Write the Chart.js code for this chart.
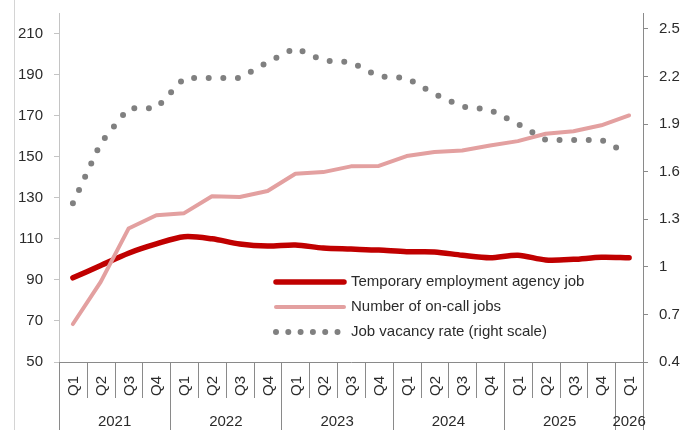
<!DOCTYPE html>
<html>
<head>
<meta charset="utf-8">
<script src="https://cdn.jsdelivr.net/npm/chart.js@4/dist/chart.umd.min.js"></script>
<style>
  html, body { margin: 0; padding: 0; background: #fff; }
  #wrap { position: relative; width: 694px; height: 430px; }
</style>
</head>
<body>
<div id="wrap"><canvas id="chart" width="694" height="430"></canvas></div>
<script>
const quarterLabels = [
  "Q1", "Q2", "Q3", "Q4",
  "Q1", "Q2", "Q3", "Q4",
  "Q1", "Q2", "Q3", "Q4",
  "Q1", "Q2", "Q3", "Q4",
  "Q1", "Q2", "Q3", "Q4",
  "Q1",
];
const yearLabels = ["2021", "2022", "2023", "2024", "2025", "2026"];

const agencyJobs = [
  91, 97, 103, 107.5, 111, 110, 107.5, 106.5, 107, 105.5, 105,
  104.5, 103.7, 103.6, 102, 100.8, 102, 99.7, 100, 101, 100.8,
];
const onCallJobs = [
  68.5, 89, 115, 121.5, 122.5, 130.7, 130.4, 133.3, 141.7, 142.5, 145.3,
  145.5, 150.3, 152.3, 153, 155.5, 157.6, 161.2, 162.4, 165.3, 170.1,
];
const vacancyRate = [
  1.4, 1.78, 2.0, 2.0, 2.19, 2.19, 2.19, 2.29, 2.38, 2.3, 2.29,
  2.2, 2.19, 2.09, 2.01, 1.99, 1.9, 1.8, 1.8, 1.8, 1.71,
];

const leftTicks = [50, 70, 90, 110, 130, 150, 170, 190, 210];
const rightTicks = [0.4, 0.7, 1, 1.3, 1.6, 1.9, 2.2, 2.5];

const seriesNames = [
  "Temporary employment agency job",
  "Number of on-call jobs",
  "Job vacancy rate (right scale)",
];

const textColor = "#2b2b2b";
const axisDark = "#8a8a8a";
const axisLight = "#c4c4c4";
const fontFamily = "'Liberation Sans', Arial, sans-serif";

const agencyColor = "#c00000";
const onCallColor = "#e3a0a0";
const vacancyColor = "#808080";

// multi level category axis + frame line + legend
const decorPlugin = {
  id: "decor",
  beforeDraw(chart) {
    const ctx = chart.ctx;
    ctx.save();
    ctx.strokeStyle = "#d4d4d4";
    ctx.lineWidth = 1;
    ctx.beginPath();
    ctx.moveTo(14.5, 0);
    ctx.lineTo(14.5, chart.height);
    ctx.stroke();
    ctx.restore();
  },
  afterDraw(chart) {
    const ctx = chart.ctx;
    const x = chart.scales.x;
    const area = chart.chartArea;
    const n = quarterLabels.length;
    const bottom = area.bottom;

    const boundary = (i) => {
      if (i === 0) return area.left;
      if (i === n) return area.right;
      return (x.getPixelForValue(i - 1) + x.getPixelForValue(i)) / 2;
    };

    ctx.save();
    ctx.strokeStyle = axisDark;
    ctx.lineWidth = 1;
    for (let i = 0; i <= n; i++) {
      const yearEdge = i === n || quarterLabels[i] === "Q1";
      const bx = Math.round(boundary(i)) + 0.5;
      ctx.beginPath();
      ctx.moveTo(bx, bottom);
      ctx.lineTo(bx, yearEdge ? chart.height : bottom + 36);
      ctx.stroke();
    }

    ctx.fillStyle = textColor;
    ctx.font = `15px ${fontFamily}`;
    ctx.textAlign = "center";
    ctx.textBaseline = "middle";
    quarterLabels.forEach((q, i) => {
      const px = x.getPixelForValue(i);
      ctx.save();
      ctx.translate(px, bottom + 24);
      ctx.rotate(-Math.PI / 2);
      ctx.fillText(q, 0, 1);
      ctx.restore();
    });

    let start = 0;
    let year = 0;
    for (let i = 1; i <= n; i++) {
      if (i === n || quarterLabels[i] === "Q1") {
        const cx = (boundary(start) + boundary(i)) / 2;
        ctx.fillText(yearLabels[year], cx, bottom + 60);
        start = i;
        year++;
      }
    }

    // legend
    const lx0 = 276;
    const lx1 = 344;
    const rows = [282, 307, 332];
    const styles = [
      { color: agencyColor, width: 5.5, dash: [] },
      { color: onCallColor, width: 4, dash: [] },
      { color: vacancyColor, width: 6, dash: [0, 12.3] },
    ];
    ctx.lineCap = "round";
    rows.forEach((ry, i) => {
      const s = styles[i];
      ctx.strokeStyle = s.color;
      ctx.lineWidth = s.width;
      ctx.setLineDash(s.dash);
      ctx.beginPath();
      ctx.moveTo(lx0, ry);
      ctx.lineTo(lx1, ry);
      ctx.stroke();
      ctx.setLineDash([]);
      ctx.fillStyle = textColor;
      ctx.textAlign = "left";
      ctx.fillText(seriesNames[i], 351, ry);
    });
    ctx.restore();
  },
};

const noVerticalPadding = (scale) => {
  scale.paddingTop = 0;
  scale.paddingBottom = 0;
};

new Chart(document.getElementById("chart"), {
  type: "line",
  data: {
    labels: quarterLabels,
    datasets: [
      {
        label: seriesNames[0],
        data: agencyJobs,
        yAxisID: "y",
        borderColor: agencyColor,
        borderWidth: 5.5,
        borderCapStyle: "round",
        borderJoinStyle: "round",
        tension: 0.3,
        pointRadius: 0,
        order: 2,
      },
      {
        label: seriesNames[1],
        data: onCallJobs,
        yAxisID: "y",
        borderColor: onCallColor,
        borderWidth: 4,
        borderCapStyle: "round",
        borderJoinStyle: "round",
        tension: 0,
        pointRadius: 0,
        order: 1,
      },
      {
        label: seriesNames[2],
        data: vacancyRate,
        yAxisID: "y1",
        borderColor: vacancyColor,
        borderWidth: 6,
        borderDash: [0, 14.6],
        borderCapStyle: "round",
        borderJoinStyle: "round",
        tension: 0,
        pointRadius: 0,
        order: 0,
      },
    ],
  },
  options: {
    responsive: false,
    animation: false,
    layout: { padding: { top: 13, left: 0, right: 0, bottom: 0 } },
    plugins: {
      legend: { display: false },
      tooltip: { enabled: false },
    },
    scales: {
      x: {
        type: "category",
        offset: true,
        grid: { display: false },
        border: { display: true, color: axisDark, width: 1 },
        ticks: { display: false },
        afterFit: (scale) => {
          scale.height = 68;
        },
      },
      y: {
        position: "left",
        min: 50,
        max: 220,
        afterBuildTicks: (axis) => {
          axis.ticks = leftTicks.map((v) => ({ value: v }));
        },
        afterFit: (scale) => {
          scale.width = 59;
          noVerticalPadding(scale);
        },
        grid: { drawOnChartArea: false, drawTicks: true, tickLength: 5, color: axisLight },
        border: { color: axisLight, width: 1 },
        ticks: {
          padding: 11,
          color: textColor,
          font: { family: fontFamily, size: 15 },
        },
      },
      y1: {
        position: "right",
        min: 0.4,
        max: 2.6,
        afterBuildTicks: (axis) => {
          axis.ticks = rightTicks.map((v) => ({ value: v }));
        },
        afterFit: (scale) => {
          scale.width = 51;
          noVerticalPadding(scale);
        },
        grid: { drawOnChartArea: false, drawTicks: true, tickLength: 5, color: axisDark },
        border: { color: axisDark, width: 1 },
        ticks: {
          padding: 11,
          color: textColor,
          font: { family: fontFamily, size: 15 },
          callback: (v) => String(v),
        },
      },
    },
  },
  plugins: [decorPlugin],
});
</script>
</body>
</html>
